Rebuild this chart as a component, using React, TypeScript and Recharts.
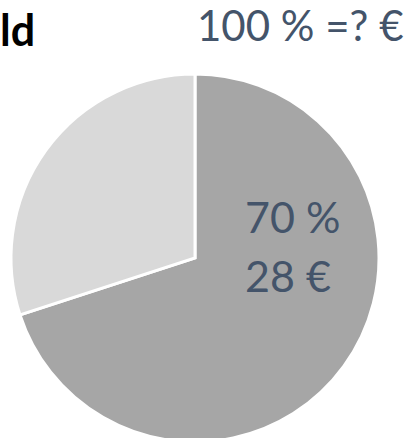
import { PieChart, Pie, Cell } from "recharts";

const categories = ["Bekannt", "Unbekannt"];
const shares = [70, 30];
const amounts = ["28 €", "? €"];
const COLORS = ["#a6a6a6", "#d9d9d9"];

const TEXT = "#44546a";
const FONT = "Lato, 'Open Sans', sans-serif";

const data = categories.map((name, i) => ({
  name,
  value: shares[i],
  amount: amounts[i],
}));

function renderLabel(props: any) {
  const { cx, cy, index, percent, payload } = props;
  if (index !== 0) return null;
  return (
    <text fill={TEXT} fontFamily={FONT} fontSize={43} textAnchor="start">
      <tspan x={cx + 50} y={cy - 25}>
        {Math.round(percent * 100)} %
      </tspan>
      <tspan x={cx + 50} y={cy + 34}>
        {payload.amount}
      </tspan>
    </text>
  );
}

export default function App() {
  return (
    <div style={{ position: "absolute", left: 0, top: 0, width: 414, height: 438, overflow: "hidden", background: "#fff" }}>
      <div
        style={{
          position: "absolute",
          left: 0,
          top: 0,
          fontFamily: FONT,
          fontWeight: 700,
          fontSize: 43,
          lineHeight: "60px",
          color: "#000",
        }}
      >
        ld
      </div>
      <div
        style={{
          position: "absolute",
          left: 197,
          top: -5,
          fontFamily: FONT,
          fontSize: 42,
          lineHeight: "60px",
          color: TEXT,
          whiteSpace: "nowrap",
        }}
      >
        100 % =? €
      </div>
      <PieChart width={414} height={438} margin={{ top: 0, right: 0, bottom: 0, left: 0 }}>
        <Pie
          data={data}
          dataKey="value"
          nameKey="name"
          cx={195}
          cy={258}
          outerRadius={184}
          startAngle={90}
          endAngle={-270}
          stroke="#ffffff"
          strokeWidth={3}
          label={renderLabel}
          labelLine={false}
          isAnimationActive={false}
        >
          {data.map((_, i) => (
            <Cell key={i} fill={COLORS[i]} />
          ))}
        </Pie>
      </PieChart>
    </div>
  );
}
